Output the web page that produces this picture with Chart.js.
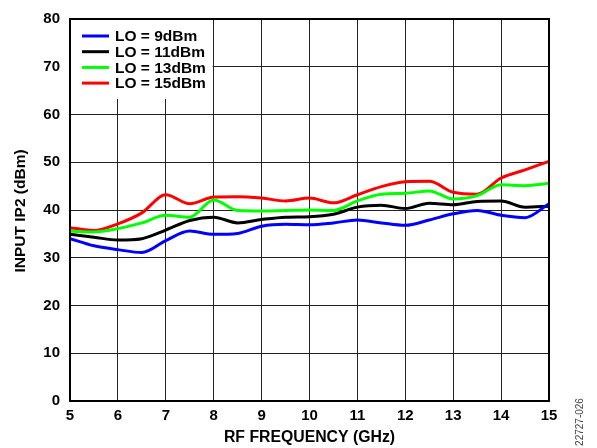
<!DOCTYPE html>
<html>
<head>
<meta charset="utf-8">
<script src="https://cdn.jsdelivr.net/npm/chart.js@4.4.1/dist/chart.umd.min.js"></script>
<style>
    html, body { margin: 0; padding: 0; background: #fff; }
    #wrap { width: 597px; height: 448px; position: relative; }
</style>
</head>
<body>
<div id="wrap"><canvas id="ip2Chart" width="597" height="448"></canvas></div>
<script>
// RF frequency (GHz) sample points
const freqGHz = [5, 5.5, 6, 6.5, 7, 7.5, 8, 8.5, 9, 9.5, 10, 10.5, 11, 11.5, 12, 12.5, 13, 13.5, 14, 14.5, 15];

// input IP2 (dBm) per LO drive level
const lo9 = [34.0, 32.5, 31.7, 31.1, 33.6, 35.6, 34.9, 35.1, 36.6, 37.0, 36.9, 37.3, 37.9, 37.3, 36.8, 37.9, 39.2, 39.9, 38.9, 38.4, 41.3];
const lo11 = [34.9, 34.3, 33.7, 34.0, 35.8, 37.8, 38.5, 37.3, 38.0, 38.5, 38.6, 39.1, 40.6, 41.0, 40.3, 41.4, 41.1, 41.8, 41.9, 40.6, 40.8];
const lo13 = [35.6, 35.4, 36.1, 37.3, 38.9, 38.5, 42.1, 39.9, 39.8, 39.9, 40.0, 39.9, 41.9, 43.3, 43.5, 44.0, 42.3, 43.0, 45.3, 45.1, 45.6];
const lo15 = [36.3, 35.7, 37.1, 39.4, 43.2, 41.3, 42.7, 42.8, 42.5, 41.9, 42.5, 41.5, 43.2, 44.9, 45.9, 46.0, 43.7, 43.3, 46.7, 48.4, 50.2];

const seriesLabels = ['LO = 9dBm', 'LO = 11dBm', 'LO = 13dBm', 'LO = 15dBm'];
const seriesColors = ['#0000ff', '#000000', '#00ff00', '#ff0000'];

const xTitle = 'RF FREQUENCY (GHz)';
const yTitle = 'INPUT IP2 (dBm)';
const figureId = '22727-026';

const fontFamily = 'Arial, "Liberation Sans", Helvetica, sans-serif';

function toPoints(values) {
    return values.map((v, i) => ({ x: freqGHz[i], y: v }));
}

const datasets = [lo9, lo11, lo13, lo15].map((values, idx) => ({
    label: seriesLabels[idx],
    data: toPoints(values),
    borderColor: seriesColors[idx],
    backgroundColor: seriesColors[idx],
    borderWidth: 3,
    pointRadius: 0,
    cubicInterpolationMode: 'monotone',
    fill: false,
}));

// legend sits inside the plot, top-left, on a white patch
const insideLegend = {
    id: 'insideLegend',
    beforeDatasetsDraw(chart) {
        const { ctx, chartArea, scales } = chart;
        const right = scales.x.getPixelForValue(8) - 1;
        const top = chartArea.top + 1;
        ctx.save();
        ctx.fillStyle = '#fff';
        ctx.fillRect(chartArea.left + 1, top, right - chartArea.left - 1, 79);
        ctx.font = 'bold 15.5px ' + fontFamily;
        ctx.textBaseline = 'middle';
        ctx.lineWidth = 3;
        seriesLabels.forEach((label, i) => {
            const y = top + 16 + i * 15.7;
            ctx.strokeStyle = seriesColors[i];
            ctx.beginPath();
            ctx.moveTo(chartArea.left + 12, y);
            ctx.lineTo(chartArea.left + 39, y);
            ctx.stroke();
            ctx.fillStyle = '#000';
            ctx.fillText(label, chartArea.left + 45, y + 1);
        });
        ctx.restore();
    },
};

const frameAndTitles = {
    id: 'frameAndTitles',
    afterDraw(chart) {
        const { ctx, chartArea } = chart;
        ctx.save();
        ctx.strokeStyle = '#000';
        ctx.lineWidth = 2;
        ctx.strokeRect(chartArea.left, chartArea.top, chartArea.right - chartArea.left, chartArea.bottom - chartArea.top);

        ctx.fillStyle = '#000';
        ctx.font = 'bold 15.8px ' + fontFamily;
        ctx.textAlign = 'center';
        ctx.textBaseline = 'middle';
        ctx.fillText(xTitle, (chartArea.left + chartArea.right) / 2, 438);

        ctx.font = 'bold 15.5px ' + fontFamily;
        ctx.translate(21, (chartArea.top + chartArea.bottom) / 2 + 1);
        ctx.rotate(-Math.PI / 2);
        ctx.fillText(yTitle, 0, 0);
        ctx.restore();

        ctx.save();
        ctx.fillStyle = '#444';
        ctx.font = '10px ' + fontFamily;
        ctx.textAlign = 'center';
        ctx.textBaseline = 'middle';
        ctx.translate(580, 422);
        ctx.rotate(-Math.PI / 2);
        ctx.fillText(figureId, 0, 0);
        ctx.restore();
    },
};

new Chart(document.getElementById('ip2Chart'), {
    type: 'line',
    data: { datasets },
    options: {
        responsive: false,
        animation: false,
        devicePixelRatio: 1,
        layout: { padding: { top: 18, right: 48, bottom: 0, left: 0 } },
        plugins: {
            legend: { display: false },
            tooltip: { enabled: false },
        },
        scales: {
            x: {
                type: 'linear',
                min: 5,
                max: 15,
                ticks: {
                    stepSize: 1,
                    padding: 6,
                    color: '#000',
                    font: { family: fontFamily, size: 15, weight: 'bold' },
                },
                grid: { color: '#222', lineWidth: 1, drawTicks: false },
                border: { color: '#000', width: 2 },
                afterFit(scale) { scale.height = 47; },
            },
            y: {
                min: 0,
                max: 80,
                ticks: {
                    stepSize: 10,
                    padding: 10,
                    color: '#000',
                    font: { family: fontFamily, size: 15, weight: 'bold' },
                },
                grid: { color: '#222', lineWidth: 1, drawTicks: false },
                border: { color: '#000', width: 2 },
                afterFit(scale) { scale.width = 70; },
            },
        },
    },
    plugins: [insideLegend, frameAndTitles],
});
</script>
</body>
</html>
